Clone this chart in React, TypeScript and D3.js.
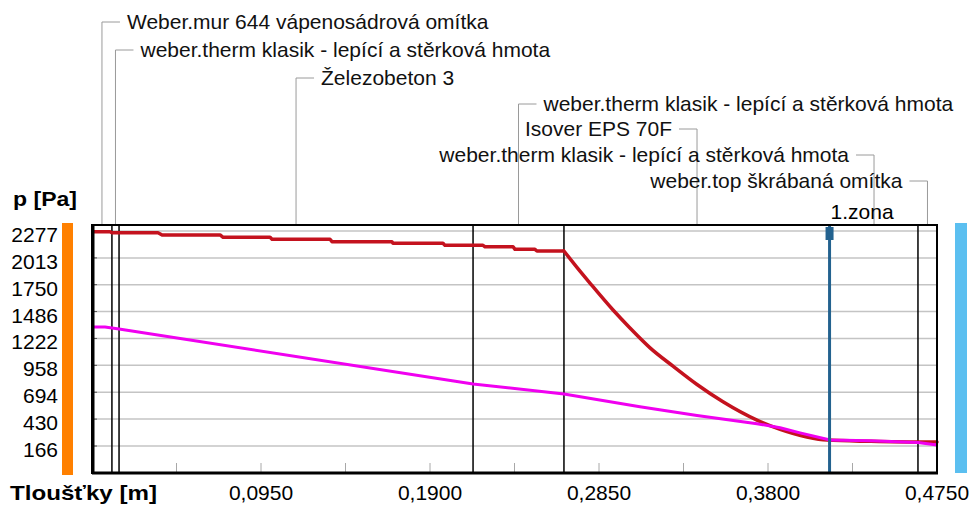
import React from "react";
import * as d3 from "d3";

// ---- data ----
const layerNames = [
  "Weber.mur 644 vápenosádrová omítka",
  "weber.therm klasik - lepící a stěrková hmota",
  "Železobeton 3",
  "weber.therm klasik - lepící a stěrková hmota",
  "Isover EPS 70F",
  "weber.therm klasik - lepící a stěrková hmota",
  "weber.top škrábaná omítka",
];
const layerBounds = [0, 0.0112, 0.0152, 0.2142, 0.2653, 0.4149, 0.4643, 0.475];
const zoneX = 0.4146;
const zoneLabel = "1.zona";

const yTickValues = [2277, 2013, 1750, 1486, 1222, 958, 694, 430, 166];
const xTickLabels = [0.095, 0.19, 0.285, 0.38, 0.475];
const xMinorTicks = [0.0475, 0.095, 0.1425, 0.19, 0.2375, 0.285, 0.3325, 0.38, 0.4275];

// saturated pressure: stepped part (inner layers) and curved part (insulation)
const redStepX = [0, 0.0101, 0.0112, 0.0371, 0.0394, 0.072, 0.0737, 0.1001, 0.1012, 0.1338, 0.1349, 0.1686, 0.1692, 0.1973, 0.1984, 0.2198, 0.2209, 0.2367, 0.2378, 0.249, 0.2501, 0.2653];
const redStepP = [2270, 2270, 2260, 2260, 2238, 2238, 2215, 2215, 2196, 2196, 2172, 2172, 2156, 2156, 2136, 2136, 2123, 2123, 2097, 2097, 2081, 2081];
const redCurveX = [0.2653, 0.2726, 0.2799, 0.2929, 0.3024, 0.3137, 0.3266, 0.3401, 0.3547, 0.3738, 0.3868, 0.4019, 0.4132, 0.4373, 0.4643, 0.475];
const redCurveP = [2081, 1920, 1766, 1501, 1325, 1130, 950, 770, 600, 420, 330, 255, 224, 212, 205, 205];

// partial pressure
const magX = [0, 0.0073, 0.0112, 0.0152, 0.2142, 0.2653, 0.308, 0.3401, 0.3738, 0.3868, 0.398, 0.4149, 0.4373, 0.4643, 0.475];
const magP = [1334, 1334, 1325, 1315, 775, 677, 552, 465, 385, 345, 295, 225, 218, 200, 176];

// ---- layout ----
const W = 972, H = 506;
const left = 92, right = 937, top = 225, bottom = 473;
const rowY = [22, 50, 78, 104, 129, 155, 181];
const side = ["L", "L", "L", "L", "R", "R", "R"];
const FONT = "'Liberation Sans', Arial, sans-serif";

export default function App() {
  const x = d3.scaleLinear().domain([0, 0.475]).range([left, right]);
  const y = d3.scaleLinear().domain([-99, 2336]).range([bottom, top]);
  const zip = (xs: number[], ps: number[]) => xs.map((v, i) => [v, ps[i]] as [number, number]);
  const lin = d3.line<[number, number]>().x(d => x(d[0])).y(d => y(d[1]));
  const smooth = d3.line<[number, number]>().x(d => x(d[0])).y(d => y(d[1])).curve(d3.curveMonotoneX);
  const fmt = (v: number) => v.toFixed(4).replace(".", ",");

  return (
    <svg width={W} height={H} style={{ position: "absolute", left: 0, top: 0, background: "#fff" }} fontFamily={FONT}>
      {/* side bars */}
      <rect x={62} y={223} width={11} height={252} fill="#ff8000" />
      <rect x={955} y={223} width={12} height={250} fill="#5bbff0" />

      {/* gridlines */}
      {yTickValues.map(v => (
        <line key={v} x1={left} x2={right} y1={y(v)} y2={y(v)} stroke="#c4c4c4" strokeWidth={1.5} />
      ))}
      {yTickValues.map(v => (
        <line key={"t" + v} x1={left} x2={left + 5} y1={y(v)} y2={y(v)} stroke="#555" strokeWidth={1} />
      ))}
      {xMinorTicks.map(v => (
        <line key={v} x1={x(v)} x2={x(v)} y1={bottom - 10} y2={bottom} stroke="#a8a8a8" strokeWidth={1} />
      ))}

      {/* y labels */}
      {yTickValues.map(v => (
        <text key={v} x={58} y={y(v) + 11} textAnchor="end" fontSize={21} fill="#000">{v}</text>
      ))}
      <text x={13} y={206} fontSize={21} fontWeight="bold" textLength={64} lengthAdjust="spacingAndGlyphs">p [Pa]</text>

      {/* x labels */}
      {xTickLabels.map(v => (
        <text key={v} x={x(v)} y={500} textAnchor="middle" fontSize={21}>{fmt(v)}</text>
      ))}
      <text x={10} y={500} fontSize={21} fontWeight="bold" textLength={147} lengthAdjust="spacingAndGlyphs">Tloušťky [m]</text>

      {/* leaders & layer names */}
      {layerNames.map((name, i) => {
        const cx = x((layerBounds[i] + layerBounds[i + 1]) / 2);
        const ry = rowY[i];
        const isL = side[i] === "L";
        return (
          <g key={i}>
            <line x1={cx} x2={cx} y1={ry} y2={top} stroke="#9a9a9a" strokeWidth={1} />
            <line x1={cx} x2={isL ? cx + 18 : cx - 18} y1={ry} y2={ry} stroke="#9a9a9a" strokeWidth={1} />
            <text x={isL ? cx + 25 : cx - 25} y={ry + 7} fontSize={21} textAnchor={isL ? "start" : "end"} fill="#111">{name}</text>
          </g>
        );
      })}

      {/* layer boundaries */}
      {layerBounds.slice(1, -1).map((b, i) => (
        b === layerBounds[5] ? null :
        <line key={i} x1={x(b)} x2={x(b)} y1={top} y2={bottom} stroke="#000" strokeWidth={1.5} />
      ))}

      {/* data lines */}
      <path d={lin(zip(redStepX, redStepP)) || ""} fill="none" stroke="#c4121e" strokeWidth={3.5} strokeLinejoin="round" />
      <path d={smooth(zip(redCurveX, redCurveP)) || ""} fill="none" stroke="#c4121e" strokeWidth={3.5} strokeLinejoin="round" strokeLinecap="round" />
      <path d={lin(zip(magX, magP)) || ""} fill="none" stroke="#f000f0" strokeWidth={3} strokeLinejoin="round" />

      {/* zone marker */}
      <line x1={x(zoneX)} x2={x(zoneX)} y1={top} y2={bottom} stroke="#23628f" strokeWidth={3} />
      <rect x={x(zoneX) - 4} y={227} width={8} height={13} fill="#23628f" />
      <text x={x(zoneX) + 1} y={219} fontSize={21}>{zoneLabel}</text>

      {/* frame */}
      <rect x={left} y={top} width={right - left} height={bottom - top} fill="none" stroke="#000" strokeWidth={2} />
      <line x1={left + 1} x2={left + 1} y1={top} y2={bottom + 1} stroke="#000" strokeWidth={3} />
      <line x1={left} x2={right + 1} y1={bottom} y2={bottom} stroke="#000" strokeWidth={3} />
    </svg>
  );
}
